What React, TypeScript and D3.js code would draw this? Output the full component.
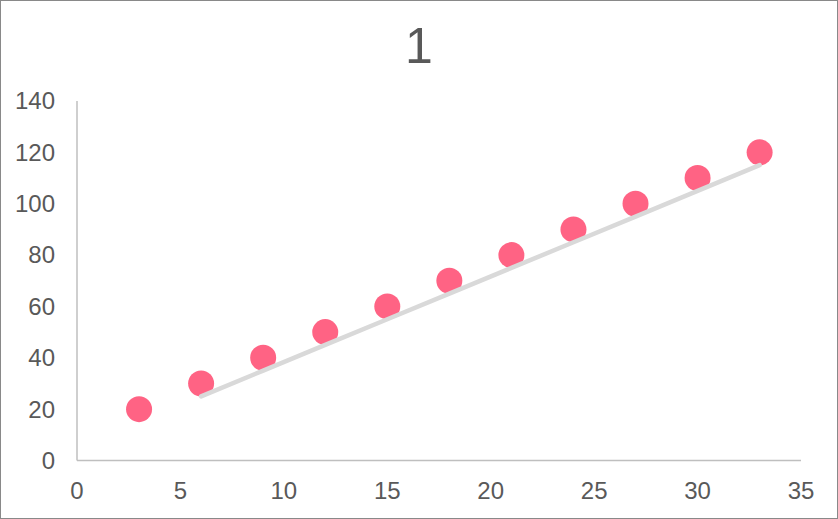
import React from "react";
import * as d3 from "d3";

const xValues = [3, 6, 9, 12, 15, 18, 21, 24, 27, 30, 33];
const yValues = [20, 30, 40, 50, 60, 70, 80, 90, 100, 110, 120];
const xTicks = [0, 5, 10, 15, 20, 25, 30, 35];
const yTicks = [0, 20, 40, 60, 80, 100, 120, 140];
const title = "1";

const W = 838;
const H = 519;

export default function App() {
  const x = d3.scaleLinear().domain([0, 35]).range([77, 801]);
  const y = d3.scaleLinear().domain([0, 140]).range([460.5, 101]);

  // 2-period moving average trendline
  const ma: [number, number][] = [];
  for (let i = 1; i < xValues.length; i++) {
    ma.push([xValues[i], (yValues[i] + yValues[i - 1]) / 2]);
  }
  const line = d3
    .line<[number, number]>()
    .x((d) => x(d[0]))
    .y((d) => y(d[1]));

  const font = "'Liberation Sans', Arial, sans-serif";

  return (
    <svg
      width={W}
      height={H}
      style={{ position: "fixed", left: 0, top: 0, background: "#fff" }}
      fontFamily={font}
    >
      <rect x={0.5} y={0.5} width={W - 1} height={H - 1} fill="#fff" stroke="#898989" strokeWidth={1} />
      <text x={419} y={62.5} textAnchor="middle" fontSize={50} fill="#595959">
        {title}
      </text>
      {/* axes */}
      <line x1={x(0)} x2={x(0)} y1={y(140)} y2={y(0)} stroke="#BFBFBF" strokeWidth={1.5} />
      <line x1={x(0)} x2={x(35)} y1={y(0)} y2={y(0)} stroke="#BFBFBF" strokeWidth={1.5} />
      {yTicks.map((t) => (
        <text key={"y" + t} x={55} y={y(t)} dy="0.35em" textAnchor="end" fontSize={24} fill="#595959">
          {t}
        </text>
      ))}
      {xTicks.map((t) => (
        <text key={"x" + t} x={x(t)} y={499} textAnchor="middle" fontSize={24} fill="#595959">
          {t}
        </text>
      ))}
      {xValues.map((xv, i) => (
        <circle key={i} cx={x(xv)} cy={y(yValues[i])} r={13} fill="#FF6384" />
      ))}
      <path d={line(ma) || ""} fill="none" stroke="#D9D9D9" strokeWidth={4.5} strokeLinecap="round" />
    </svg>
  );
}
